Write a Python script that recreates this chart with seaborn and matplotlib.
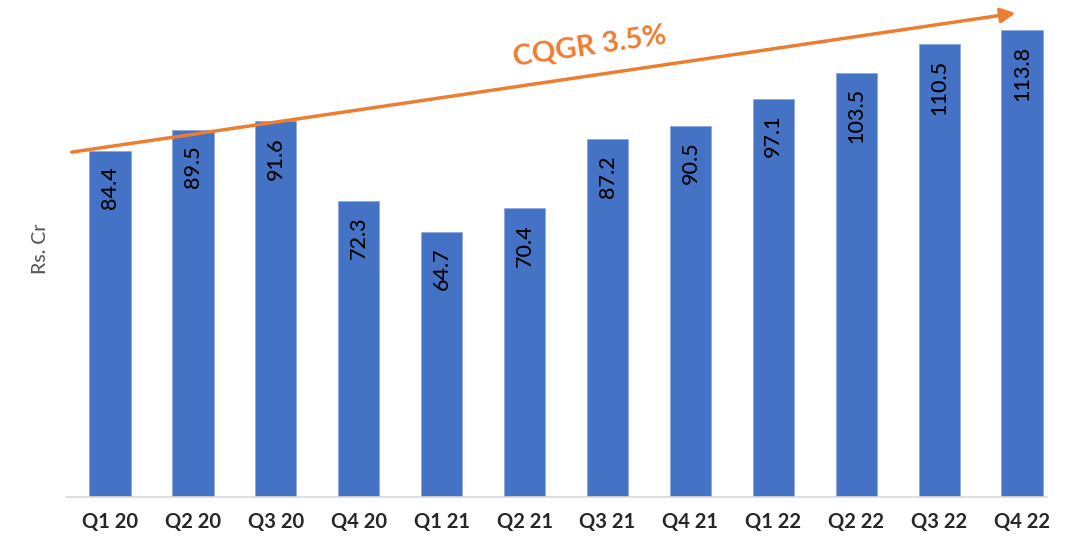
import matplotlib
matplotlib.use("Agg")
import matplotlib.pyplot as plt
import seaborn as sns
import pandas as pd

quarters = ["Q1 20", "Q2 20", "Q3 20", "Q4 20", "Q1 21", "Q2 21",
            "Q3 21", "Q4 21", "Q1 22", "Q2 22", "Q3 22", "Q4 22"]
revenue = [84.4, 89.5, 91.6, 72.3, 64.7, 70.4, 87.2, 90.5, 97.1, 103.5, 110.5, 113.8]
trend_label = "CQGR 3.5%"
y_label = "Rs. Cr"

sns.set_theme(style="white")
plt.rcParams['font.family'] = ['Lato', 'DejaVu Sans']

df = pd.DataFrame({"quarter": quarters, "revenue": revenue})

fig = plt.figure(figsize=(10.81, 5.42), dpi=100)
ax = fig.add_axes([0.061, 0.083, 0.9076, 0.917])

sns.barplot(data=df, x="quarter", y="revenue", color="#4472C4", width=0.5,
            saturation=1, ax=ax, edgecolor="#8FAADC", linewidth=0.6)

ax.set_xlim(-0.53, 11.30)
ax.set_ylim(0, 121.2)

for i, v in enumerate(revenue):
    ax.text(i, v - 3.8, f"{v:.1f}", rotation=90, ha="center", va="top",
            fontsize=15.5, color="black", fontweight="medium")

# trend arrow
ax.annotate("", xy=(10.92, 118.0), xytext=(-0.46, 84.1),
            arrowprops=dict(arrowstyle="-|>", color="#ED7D31", lw=2.5,
                            mutation_scale=22, shrinkA=0, shrinkB=0),
            annotation_clip=False)
ax.text(5.78, 109.8, trend_label, rotation=8.4, ha="center", va="center",
        fontsize=21, fontweight="bold", color="#ED7D31")

for s in ["top", "right", "left"]:
    ax.spines[s].set_visible(False)
ax.spines["bottom"].set_color("#D9D9D9")
ax.spines["bottom"].set_linewidth(1.2)
ax.set_yticks([])
ax.tick_params(axis="x", length=0, pad=11)
for lbl in ax.get_xticklabels():
    lbl.set_fontweight("bold")
    lbl.set_fontsize(14.5)
    lbl.set_color("#262626")
ax.set_xlabel("")
ax.set_ylabel(y_label, fontsize=14, color="#595959", labelpad=12,
              fontweight="medium")

fig.savefig("out.png", dpi=100)
